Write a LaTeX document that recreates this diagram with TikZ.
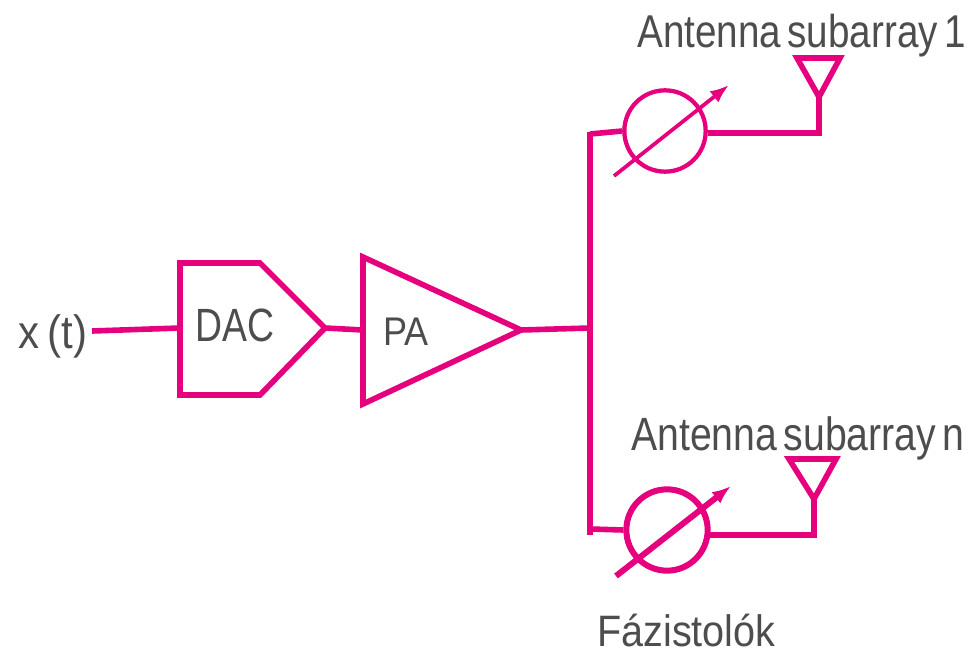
\documentclass[tikz,border=0pt]{standalone}
\usepackage{fontspec}
\setmainfont{Liberation Sans}
\newfontfamily\narrowfont[FakeStretch=0.8,WordSpace=0.6]{Liberation Sans}
\newfontfamily\midfont[FakeStretch=0.84,WordSpace=0.6]{Liberation Sans}
\newfontfamily\widefont[FakeStretch=0.9,WordSpace=0.7]{Liberation Sans}
\usepackage{tikz}
\usetikzlibrary{arrows.meta,positioning}
\definecolor{tmagenta}{HTML}{E6007E}
\definecolor{labelgray}{HTML}{4D4D4D}

\begin{document}
\begin{tikzpicture}[
  x=0.75pt, y=-0.75pt,
  wire/.style={draw=tmagenta, line width=4.2pt},
  symbolline/.style={draw=tmagenta, line width=4.2pt, line join=miter},
  shifter/.style={draw=tmagenta, circle, inner sep=0pt, minimum size=61pt},
  label/.style={text=labelgray, inner sep=0pt, anchor=base west},
  >={Latex[length=5mm]}
]
\useasboundingbox (0,0) rectangle (969,656);

% Input and converter
\node[label, font=\widefont\fontsize{35pt}{35pt}\selectfont] (xt) at (18,348) {x (t)};
\coordinate (xtend) at (92,331);
\coordinate (dacw) at (180,328);
\coordinate (dactip) at (325,328);
\draw[symbolline] (dacw |- 0,263) -- (260,263) -- (dactip) -- (260,395) -- (dacw |- 0,395) -- cycle;
\node[label, font=\narrowfont\fontsize{35pt}{35pt}\selectfont] (dac) at (195,341) {DAC};

% Amplifier
\coordinate (paw) at (363,330);
\coordinate (patip) at (521,330);
\draw[symbolline] (363,257) -- (patip) -- (363,404) -- cycle;
\node[label, font=\widefont\fontsize{30pt}{30pt}\selectfont] (pa) at (383,345) {PA};

\draw[wire] (xtend) -- (dacw);
\draw[wire] (dactip) -- (paw);
\draw[wire] (patip) -- (590,328);

% Splitter bar
\coordinate (bartop) at (590,132);
\coordinate (barbot) at (590,535);
\draw[wire] (bartop) -- (barbot);

% Upper branch
\node[shifter, line width=3.2pt] (ps1) at (665,131) {};
\coordinate (ant1foot) at (819,133);
\coordinate (ant1tip) at (819,97);
\draw[wire] (590,134) -- (ps1.west);
\draw[wire] (708,133) -- (ant1foot) -- (ant1tip);
\draw[symbolline] (797,58) -- (840,58) -- (ant1tip) -- cycle;
\draw[draw=tmagenta, line width=2.8pt, ->] (614,176) -- (729,85);
\node[label, font=\midfont\fontsize{34.5pt}{34.5pt}\selectfont] (sub1) at (637,48) {Antenna subarray 1};

% Lower branch
\node[shifter, line width=4.5pt] (ps2) at (667,530) {};
\coordinate (ant2foot) at (814,535);
\coordinate (ant2tip) at (814,499);
\draw[wire] (590,529) -- (ps2.west);
\draw[wire] (708,535) -- (ant2foot) -- (ant2tip);
\draw[symbolline] (789,459) -- (836,459) -- (ant2tip) -- cycle;
\draw[draw=tmagenta, line width=4.5pt, ->] (616,576) -- (731,486);
\node[label, font=\midfont\fontsize{35pt}{35pt}\selectfont] (subn) at (631,450) {Antenna subarray n};
\node[label, font=\widefont\fontsize{33pt}{33pt}\selectfont] (phase) at (597,646) {Fázistolók};
\end{tikzpicture}
\end{document}
